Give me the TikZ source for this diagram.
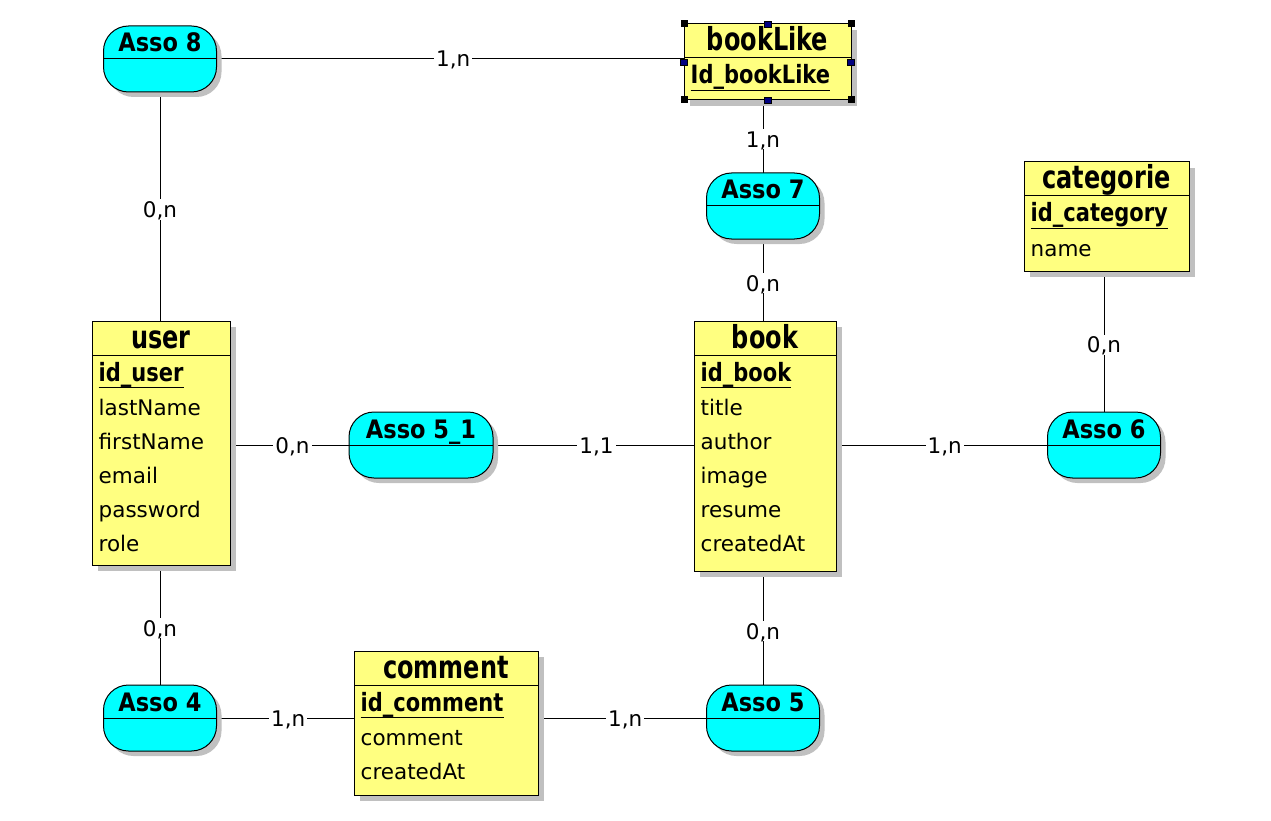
\documentclass[tikz,border=0pt]{standalone}
\usepackage{graphicx}
\usepackage{fontspec}
\setmainfont{DejaVu Sans}
\usetikzlibrary{shadows,backgrounds}
\definecolor{entyellow}{RGB}{255,255,128}
\definecolor{assocyan}{RGB}{0,255,255}
\definecolor{shgray}{RGB}{192,192,192}
\definecolor{handlenavy}{RGB}{0,0,128}
\tikzset{
  entbox/.style={draw=black, line width=1pt, fill=entyellow, anchor=north west, inner sep=0pt, outer sep=0pt,
    drop shadow={shadow xshift=6pt, shadow yshift=-6pt, fill=shgray, opacity=1, draw=none}},
  assobox/.style={draw=black, line width=1pt, fill=assocyan, rounded corners=25pt, inner sep=0pt, outer sep=0pt,
    minimum height=66pt, drop shadow={shadow xshift=5pt, shadow yshift=-5pt, fill=shgray, opacity=1, draw=none}},
  enttitle/.style={anchor=base, inner sep=0pt, font=\fontsize{24}{28}\selectfont\bfseries},
  attr/.style={anchor=base west, inner sep=0pt, font=\fontsize{21.5}{26}\selectfont},
  keyattr/.style={anchor=base west, inner sep=0pt, font=\fontsize{21}{26}\selectfont\bfseries},
  assotext/.style={anchor=base, inner sep=0pt, font=\fontsize{22.5}{27}\selectfont\bfseries},
  card/.style={fill=white, inner sep=2pt, text height=16pt, text depth=0pt, font=\fontsize{21.5}{26}\selectfont},
  cardh/.style={card, xshift=3pt},
  cardv/.style={card, yshift=-3pt},
  conn/.style={draw=black, line width=1pt},
  sepline/.style={draw=black, line width=1pt},
  keyline/.style={draw=black, line width=1pt},
  cornerhandle/.style={fill=black},
  midhandle/.style={fill=handlenavy, draw=black, line width=0.6pt},
}
\newcommand\mkentity[7]{%
  \node[entbox, minimum width=#4pt, minimum height=#5pt] (#1) at (#2,#3) {};
  \node[enttitle] (#1T) at ([yshift=-27pt]#1.north) {\scalebox{1}[1.32]{#6}};
  \draw[sepline] ([yshift=-34pt]#1.north west) -- ([yshift=-34pt]#1.north east);
  \node[keyattr] (#1K) at ([shift={(6.5pt,-60pt)}]#1.north west) {\scalebox{1}[1.2]{#7}};
  \draw[keyline] ([yshift=-6.5pt]#1K.base west) -- ([yshift=-6.5pt]#1K.base east);
}
\newcommand\mkattrs[2]{%
  \foreach \t [count=\i] in {#2} {\node[attr] (#1A\i) at ([shift={(6.5pt,{-60pt-34pt*\i})}]#1.north west) {\t};}
}
\newcommand\mkasso[5]{%
  \node[assobox, minimum width=#4pt] (#1) at (#2,#3) {};
  \draw[sepline] (#1.west) -- (#1.east);
  \node[assotext] (#1T) at ([yshift=7pt]#1.center) {\scalebox{1}[1.13]{#5}};
}
\begin{document}
\begin{tikzpicture}[x=1pt,y=-1pt]
\useasboundingbox (0,0) rectangle (1271,821);

% entities
\mkentity{user}{92}{321}{138}{244}{user}{id\_user}
\mkattrs{user}{lastName,firstName,email,password,role}
\mkentity{book}{694}{321}{142}{250}{book}{id\_book}
\mkattrs{book}{title,author,image,resume,createdAt}
\mkentity{comment}{354}{651}{184}{144}{comment}{id\_comment}
\mkattrs{comment}{comment,createdAt}
\mkentity{cat}{1024}{162}{165}{109}{categorie}{id\_category}
\mkattrs{cat}{name}
\mkentity{bl}{684}{24}{167}{76}{bookLike}{Id\_bookLike}

% selection handles on bookLike
\foreach \p in {north west, north east, south west, south east}
  \fill[cornerhandle] ([shift={(-3.5pt,-3.5pt)}]bl.\p) rectangle ++(7pt,7pt);
\foreach \p in {north, south, west, east}
  \filldraw[midhandle] ([shift={(-3.5pt,-3pt)}]bl.\p) rectangle ++(7pt,6pt);

% associations
\mkasso{a8}{160}{59}{113}{Asso 8}
\mkasso{a7}{763}{206}{113}{Asso 7}
\mkasso{a51}{421}{445}{144}{Asso 5\_1}
\mkasso{a6}{1104}{445}{113}{Asso 6}
\mkasso{a4}{160}{718}{113}{Asso 4}
\mkasso{a5}{763}{718}{113}{Asso 5}

% connectors
\begin{pgfonlayer}{background}
\fill[white] (0,0) rectangle (1271,821);
\draw[conn] (a8.east) -- (a8.east -| bl.west) node[cardh, midway] (c1) {1,n};
\draw[conn] (a7 |- bl.south) -- (a7.north) node[cardv, midway] (c2) {1,n};
\draw[conn] (a7.south) -- (a7 |- book.north) node[cardv, midway] (c3) {0,n};
\draw[conn] (a8.south) -- (a8 |- user.north) node[cardv, midway] (c4) {0,n};
\draw[conn] (user.east |- a51) -- (a51.west) node[cardh, midway] (c5) {0,n};
\draw[conn] (a51.east) -- (a51 -| book.west) node[cardh, midway] (c6) {1,1};
\draw[conn] (book.east |- a6) -- (a6.west) node[cardh, midway] (c7) {1,n};
\draw[conn] (a6 |- cat.south) -- (a6.north) node[cardv, midway] (c8) {0,n};
\draw[conn] (a4 |- user.south) -- (a4.north) node[cardv, midway] (c9) {0,n};
\draw[conn] (a4.east) -- (a4 -| comment.west) node[cardh, midway] (c10) {1,n};
\draw[conn] (comment.east |- a5) -- (a5.west) node[cardh, midway] (c11) {1,n};
\draw[conn] (a5 |- book.south) -- (a5.north) node[cardv, midway] (c12) {0,n};
\end{pgfonlayer}
\end{tikzpicture}
\end{document}
